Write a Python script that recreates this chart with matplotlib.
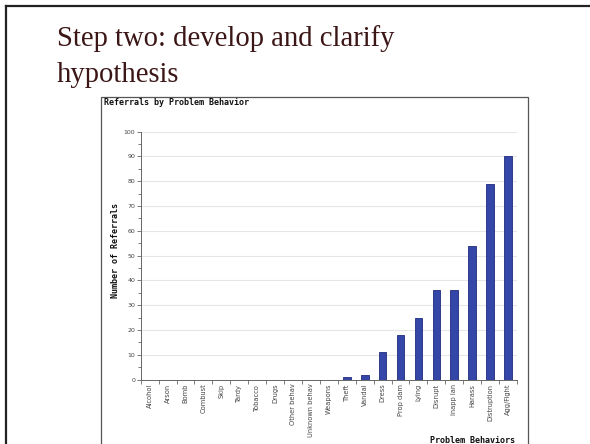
import matplotlib
matplotlib.use("Agg")
import matplotlib.pyplot as plt
from matplotlib.lines import Line2D
from matplotlib.patches import Rectangle
import numpy as np

categories = ["Alcohol", "Arson", "Bomb", "Combust", "Skip", "Tardy", "Tobacco",
              "Drugs", "Other behav", "Unknown behav", "Weapons", "Theft", "Vandal",
              "Dress", "Prop dam", "Lying", "Disrupt", "Inapp lan", "Harass",
              "Distruption", "Agg/Fight"]
values = [0, 0, 0, 0, 0, 0, 0, 0, 0, 0, 0, 1, 2, 11, 18, 25, 36, 36, 54, 79, 90]
y_ticks = [0, 10, 20, 30, 40, 50, 60, 70, 80, 90, 100]

W, H = 590, 444
fig = plt.figure(figsize=(W / 100, H / 100), dpi=100)
fig.patch.set_facecolor("white")

def fx(x):
    return x / W

def fy(y):
    return 1 - y / H

# slide frame (top and left edges)
fig.add_artist(Line2D([fx(6), fx(6)], [fy(6.5), 0], transform=fig.transFigure,
                      color="#222222", lw=1.6))
fig.add_artist(Line2D([fx(6), 1], [fy(6.5), fy(6.5)], transform=fig.transFigure,
                      color="#222222", lw=1.6))

# slide title
title_color = "#3c1616"
fig.text(fx(57), fy(45.5), "Step two: develop and clarify", fontsize=20.6,
         family="Liberation Serif", color=title_color, ha="left", va="baseline")
fig.text(fx(57), fy(81.5), "hypothesis", fontsize=20.6,
         family="Liberation Serif", color=title_color, ha="left", va="baseline")

# chart image box
fig.add_artist(Rectangle((fx(101), -0.01), fx(528) - fx(101), fy(97) + 0.01,
                         transform=fig.transFigure, fill=False,
                         edgecolor="#555555", lw=0.9))

lab_font = dict(family="DejaVu Sans Mono", weight="bold", color="#111111",
                fontsize=6.0)
fig.text(fx(104), fy(105), "Referrals by Problem Behavior", ha="left",
         va="baseline", **lab_font)

# axes
ax_left, ax_right = 140.7, 517
ax_top, ax_bottom = 131.5, 379.5
ax = fig.add_axes([fx(ax_left), fy(ax_bottom), fx(ax_right) - fx(ax_left),
                   (ax_bottom - ax_top) / H])
x = np.arange(len(categories))
ax.bar(x, values, width=0.43, color="#3446a8", edgecolor="#1f2b7c", linewidth=0.6,
       zorder=3)
ax.set_xlim(-0.5, len(categories) - 0.5)
ax.set_ylim(0, 100)
ax.set_yticks(y_ticks)
ax.set_yticklabels([str(v) for v in y_ticks])
ax.set_yticks(np.arange(5, 100, 10), minor=True)
ax.set_xticks(x)
ax.set_xticklabels(categories, rotation=90, fontsize=4.8, color="#444444",
                   family="DejaVu Sans")
ax.set_xticks(np.arange(-0.5, len(categories), 1.0), minor=True)
ax.tick_params(axis="x", which="major", length=0, pad=3)
ax.tick_params(axis="x", which="minor", length=3, color="#666666", width=0.6)
ax.tick_params(axis="y", which="major", length=3, color="#666666", width=0.6,
               labelsize=4.5, labelcolor="#444444", pad=1)
ax.tick_params(axis="y", which="minor", length=2, color="#666666", width=0.6)
ax.grid(axis="y", which="major", color="#e6e6e6", linewidth=0.8, zorder=0)
for s in ["top", "right"]:
    ax.spines[s].set_visible(False)
for s in ["left", "bottom"]:
    ax.spines[s].set_color("#666666")
    ax.spines[s].set_linewidth(0.7)

fig.text(fx(115.5), fy(250), "Number of Referrals", rotation=90,
         ha="center", va="center", **lab_font)
fig.text(fx(515), fy(443), "Problem Behaviors", ha="right", va="baseline",
         **lab_font)

fig.savefig("out.png", dpi=100, facecolor="white")
